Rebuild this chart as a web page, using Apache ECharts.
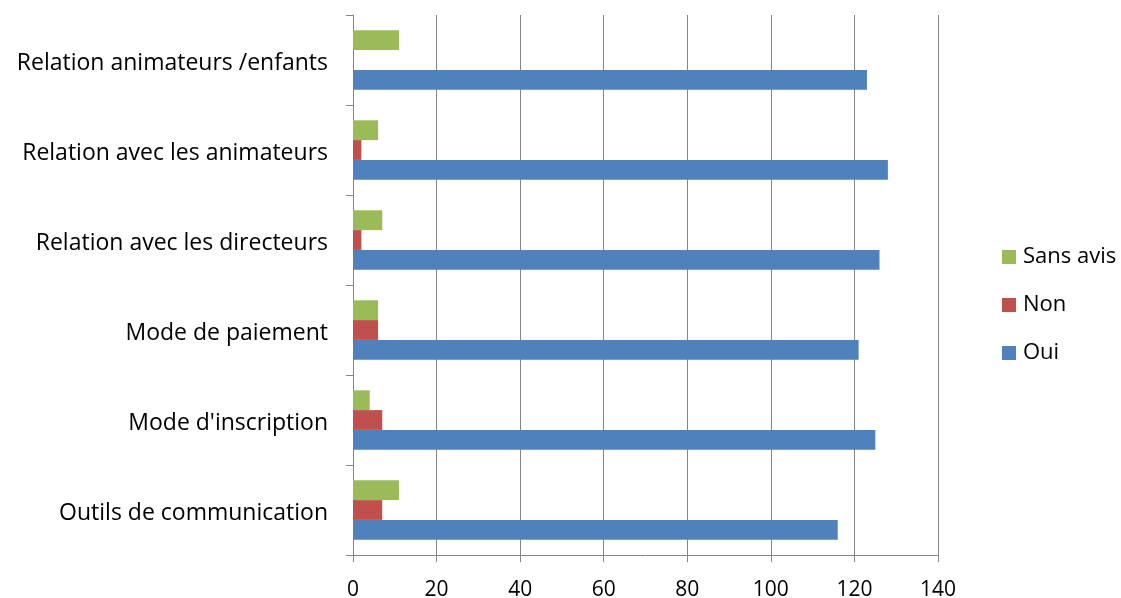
<!DOCTYPE html>
<html>
<head>
<meta charset="utf-8">
<script src="https://cdn.jsdelivr.net/npm/echarts@6/dist/echarts.min.js"></script>
<style>html,body{margin:0;padding:0;background:#fff}#c{width:1121px;height:598px}</style>
</head>
<body>
<div id="c"></div>
<script>
const categories = ["Outils de communication", "Mode d'inscription", "Mode de paiement", "Relation avec les directeurs", "Relation avec les animateurs", "Relation animateurs /enfants"];
const oui = [116, 125, 121, 126, 128, 123];
const non = [7, 7, 6, 2, 2, 0];
const sansAvis = [11, 4, 6, 7, 6, 11];
const xTicks = [0, 20, 40, 60, 80, 100, 120, 140];

const font = "'Open Sans', sans-serif";
const chart = echarts.init(document.getElementById('c'), null, {renderer: 'canvas'});
chart.setOption({
  animation: false,
  grid: {left: 353, right: 183, top: 15, bottom: 43, containLabel: false, outerBoundsMode: 'none'},
  legend: {
    orient: 'vertical', left: 1002, top: 246, padding: 0,
    data: ['Sans avis', 'Non', 'Oui'],
    itemWidth: 14, itemHeight: 14, itemGap: 26, icon: 'rect',
    textStyle: {fontFamily: font, fontSize: 22, color: '#000', padding: [0, 0, 0, 2]}
  },
  xAxis: {
    type: 'value', min: xTicks[0], max: xTicks[xTicks.length - 1], interval: 20,
    axisLine: {show: true, lineStyle: {color: '#868686', width: 1}},
    axisTick: {show: true, length: 7, lineStyle: {color: '#868686'}},
    axisLabel: {fontFamily: font, fontSize: 21, color: '#000', margin: 25},
    splitLine: {show: true, lineStyle: {color: '#868686', width: 1}}
  },
  yAxis: {
    type: 'category', data: categories,
    axisLine: {show: true, lineStyle: {color: '#868686', width: 1}},
    axisTick: {show: true, length: 7, lineStyle: {color: '#868686'}},
    axisLabel: {
      fontFamily: font, fontSize: 23, color: '#000', margin: 25,
      formatter: function (v) { return '{t|' + v + '}'; },
      rich: {t: {fontFamily: font, fontSize: 23, color: '#000', padding: [6, 0, 0, 0]}}
    }
  },
  series: [
    {name: 'Sans avis', type: 'bar', data: sansAvis, itemStyle: {color: '#9BBB59'}, barGap: '0%', barCategoryGap: '34%'},
    {name: 'Non', type: 'bar', data: non, itemStyle: {color: '#C0504D'}},
    {name: 'Oui', type: 'bar', data: oui, itemStyle: {color: '#4F81BD'}}
  ]
});
</script>
</body>
</html>
